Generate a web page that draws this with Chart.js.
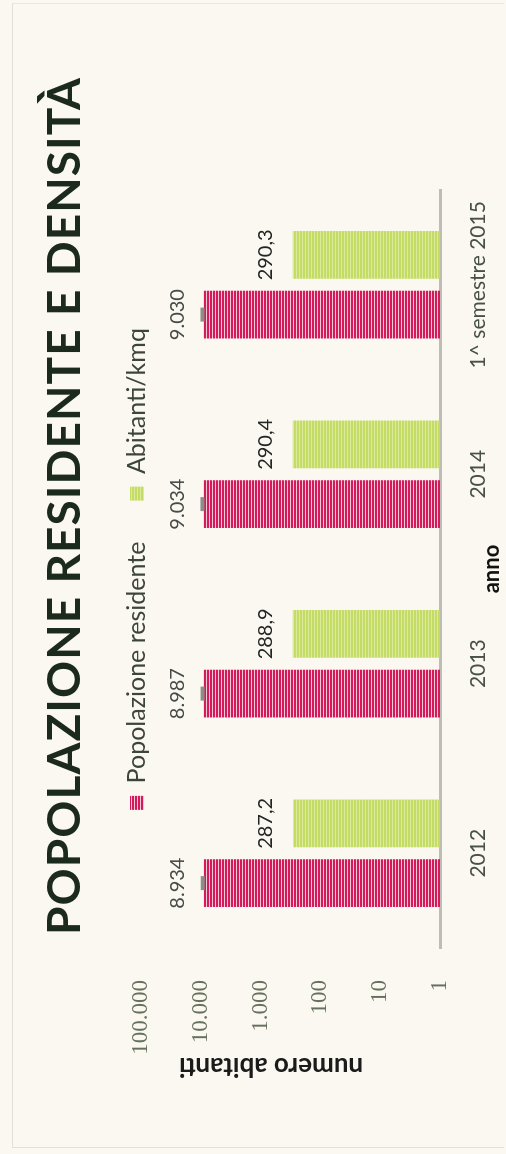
<!DOCTYPE html>
<html lang="it">
<head>
<meta charset="utf-8">
<title>Popolazione residente e densità</title>
<script src="https://cdn.jsdelivr.net/npm/chart.js@4.4.1/dist/chart.umd.min.js"></script>
<style>
  html, body { margin: 0; padding: 0; background: #fbf8f1; }
  body { width: 506px; height: 1154px; position: relative; overflow: hidden; }
  .frame {
    position: absolute; left: 12px; top: 3px; width: 492px; height: 1145px;
    border-left: 1px solid #e3dfd5; border-top: 1px solid #ebe7dd; border-bottom: 1px solid #e3dfd5;
    box-sizing: border-box;
  }
  /* the chart is drawn lying on its side, like the scanned page */
  .turn {
    position: absolute; left: 0; top: 0; width: 1154px; height: 506px;
    transform-origin: 0 0; transform: translateY(1154px) rotate(-90deg);
  }
</style>
</head>
<body>
<div class="frame"></div>
<div class="turn"><canvas id="chart" width="1154" height="506"></canvas></div>
<script>
// data
const categories = ['2012', '2013', '2014', '1^ semestre 2015'];
const popolazione = [8934, 8987, 9034, 9030];
const densita = [287.2, 288.9, 290.4, 290.3];
const logTicks = [1, 10, 100, 1000, 10000, 100000];

const titleText = 'POPOLAZIONE RESIDENTE E DENSITÀ';
const yTitleText = 'numero abitanti';

function formatInt(v) {
    return String(Math.round(v)).replace(/\B(?=(\d{3})+(?!\d))/g, '.');
}
function formatDec(v) {
    return v.toFixed(1).replace('.', ',');
}

// striped fills like the printed bars
function stripes(main, light) {
    const c = document.createElement('canvas');
    c.width = 1; c.height = 3;
    const g = c.getContext('2d');
    g.fillStyle = main; g.fillRect(0, 0, 1, 2);
    g.fillStyle = light; g.fillRect(0, 2, 1, 1);
    return g.createPattern(c, 'repeat');
}
const pinkFill = stripes('#d51a5b', '#f3c9d6');
const greenFill = stripes('#c4dc66', '#dcea9c');

const decorations = {
    id: 'decorations',
    afterLayout(chart) {
        // the legend sits partly beside the top of the plot in the original
        const lg = chart.legend;
        const dy = 83.5 - lg.top;
        lg.top += dy;
        lg.bottom += dy;
    },
    afterDatasetsDraw(chart) {
        const ctx = chart.ctx;
        ctx.save();
        ctx.font = '20px Lato';
        ctx.textAlign = 'center';
        ctx.textBaseline = 'middle';
        chart.data.datasets.forEach((ds, i) => {
            const meta = chart.getDatasetMeta(i);
            meta.data.forEach((bar, j) => {
                if (i === 0) {
                    ctx.fillStyle = '#8d8d8a';
                    ctx.fillRect(bar.x - 7, bar.y - 3, 14, 4);
                    ctx.fillStyle = '#474a46';
                    ctx.fillText(formatInt(ds.data[j]), bar.x, bar.y - 26);
                } else {
                    ctx.fillStyle = '#232623';
                    ctx.fillText(formatDec(ds.data[j]), bar.x, bar.y - 27);
                }
            });
        });
        ctx.restore();
    },
    afterDraw(chart) {
        const ctx = chart.ctx;
        ctx.save();
        // main title
        ctx.font = 'bold 46px Lato';
        ctx.fillStyle = '#1c291d';
        ctx.textAlign = 'center';
        ctx.textBaseline = 'alphabetic';
        const w = ctx.measureText(titleText).width;
        ctx.letterSpacing = ((857 - w) / (titleText.length - 1)).toFixed(2) + 'px';
        ctx.fillText(titleText, 648, 80);
        ctx.letterSpacing = '0px';
        // value axis title
        ctx.translate(88, 271);
        ctx.rotate(-Math.PI / 2);
        ctx.font = 'bold 26px Lato';
        ctx.fillStyle = '#1b1b1b';
        ctx.textBaseline = 'middle';
        ctx.fillText(yTitleText, 0, 0);
        ctx.restore();
    }
};

const ctx = document.getElementById('chart').getContext('2d');
new Chart(ctx, {
    type: 'bar',
    data: {
        labels: categories,
        datasets: [
            { label: 'Popolazione residente', data: popolazione, backgroundColor: pinkFill, borderWidth: 0 },
            { label: 'Abitanti/kmq', data: densita, backgroundColor: greenFill, borderWidth: 0 }
        ]
    },
    options: {
        responsive: false,
        animation: false,
        events: [],
        categoryPercentage: 0.63,
        barPercentage: 0.8,
        layout: { padding: { top: 65, right: 190, left: 0, bottom: 0 } },
        plugins: {
            title: { display: false },
            tooltip: { enabled: false },
            legend: {
                position: 'top',
                align: 'center',
                fullSize: false,
                labels: {
                    boxWidth: 14,
                    boxHeight: 14,
                    padding: 41,
                    color: '#3c453b',
                    font: { family: 'Lato', size: 25 }
                }
            }
        },
        scales: {
            x: {
                grid: { display: false },
                border: { color: '#bdbdb5', width: 3 },
                ticks: {
                    color: '#485145',
                    font: { family: 'Lato', size: 21 },
                    padding: 18,
                    maxRotation: 0,
                    autoSkip: false
                },
                title: {
                    display: true,
                    text: 'anno',
                    color: '#121212',
                    font: { family: 'Lato', size: 22, weight: 'bold' },
                    padding: { top: 0, bottom: 1 }
                },
                afterFit(scale) { scale.height = 66; }
            },
            y: {
                type: 'logarithmic',
                min: 1,
                max: 100000,
                grid: { display: false },
                border: { display: false },
                ticks: {
                    color: '#66715d',
                    font: { family: 'Liberation Serif', size: 23 },
                    padding: 24,
                    callback: (v) => formatInt(v)
                },
                afterBuildTicks(scale) {
                    scale.ticks = logTicks.map(v => ({ value: v }));
                },
                afterFit(scale) { scale.width = 206; }
            }
        }
    },
    plugins: [decorations]
});
</script>
</body>
</html>
